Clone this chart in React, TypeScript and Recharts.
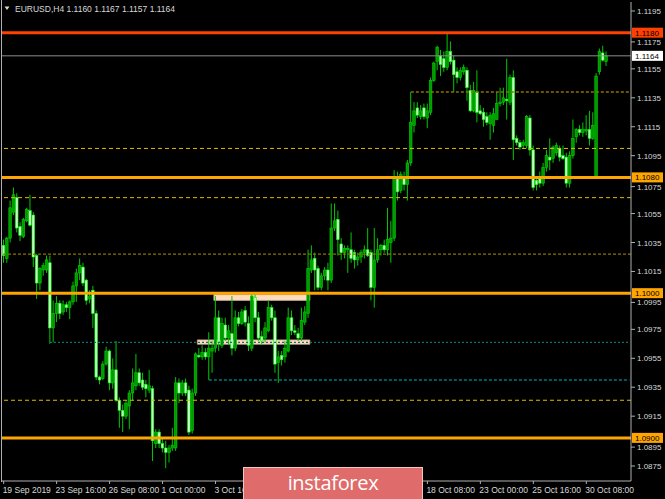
import React from "react";
import { ComposedChart, Bar, XAxis, YAxis, ReferenceLine, ReferenceArea } from "recharts";

// EURUSD H4 candles (19 Sep 2019 .. 31 Oct 2019)
const opens = [
  1.1033, 1.1024, 1.1038, 1.1056, 1.1066, 1.1046, 1.1039, 1.105, 1.1057, 1.1054,
  1.1026, 1.1007, 1.1016, 1.1016, 1.1021, 1.0976, 1.0986, 1.0993, 1.0987, 1.0992,
  1.099, 1.0994, 1.1005, 1.1014, 1.1018, 1.1009, 1.0996, 1.1002, 1.0986, 1.0942,
  1.0941, 1.0951, 1.096, 1.0938, 1.0947, 1.0926, 1.0919, 1.0915, 1.0922, 1.0931,
  1.0936, 1.0945, 1.094, 1.0937, 1.0933, 1.0934, 1.0896, 1.0904, 1.0896, 1.0893,
  1.089, 1.0893, 1.0893, 1.0938, 1.0931, 1.0938, 1.0933, 1.0905, 1.0931, 1.0957,
  1.0956, 1.0959, 1.0956, 1.096, 1.0962, 1.0983, 1.0964, 1.0978, 1.0969, 1.0972,
  1.0962, 1.0983, 1.0979, 1.0988, 1.0979, 1.0962, 1.0997, 1.0983, 1.097, 1.0969,
  1.0974, 1.099, 1.0983, 1.0952, 1.0957, 1.0956, 1.096, 1.0983, 1.0974, 1.0972,
  1.0969, 1.098, 1.0986, 1.1016, 1.1024, 1.1017, 1.1004, 1.1012, 1.1016, 1.1009,
  1.1045, 1.1051, 1.1034, 1.1028, 1.103, 1.103, 1.1028, 1.1023, 1.1025, 1.1028,
  1.103, 1.1028, 1.1004, 1.1023, 1.103, 1.1033, 1.103, 1.1035, 1.1038, 1.1079,
  1.1071, 1.108, 1.1075, 1.109, 1.1116, 1.1128, 1.1122, 1.1128, 1.1121, 1.1125,
  1.1147, 1.116, 1.1164, 1.1162, 1.1156, 1.1167, 1.1161, 1.1153, 1.1149, 1.1153,
  1.1154, 1.114, 1.1126, 1.1139, 1.1126, 1.1125, 1.1122, 1.1117, 1.1116, 1.112,
  1.1131, 1.1132, 1.1134, 1.1132, 1.1149, 1.1107, 1.1104, 1.1102, 1.1102, 1.1121,
  1.1099, 1.1078, 1.1079, 1.1076, 1.1087, 1.1094, 1.1093, 1.1097, 1.11, 1.1095,
  1.1094, 1.1076, 1.1095, 1.1108, 1.1113, 1.1111, 1.1112, 1.1113, 1.1107, 1.108,
  1.1153, 1.1166, 1.116,
];
const highs = [
  1.1037, 1.1039, 1.1064, 1.1073, 1.1069, 1.1049, 1.1052, 1.1059, 1.1068, 1.1056,
  1.1027, 1.1018, 1.1021, 1.1026, 1.1026, 1.0995, 1.0998, 1.0995, 1.0995, 1.0994,
  1.0995, 1.1008, 1.1017, 1.1024, 1.1021, 1.101, 1.1002, 1.1005, 1.0988, 1.0943,
  1.0953, 1.0963, 1.0961, 1.0955, 1.0967, 1.0928, 1.0923, 1.0926, 1.0933, 1.0948,
  1.0958, 1.0948, 1.0945, 1.094, 1.0947, 1.0936, 1.0906, 1.0906, 1.09, 1.0898,
  1.0895, 1.0907, 1.0942, 1.0941, 1.094, 1.0941, 1.0936, 1.0934, 1.0959, 1.0962,
  1.0964, 1.0962, 1.0973, 1.0967, 1.0998, 1.0988, 1.0983, 1.0983, 1.0978, 1.0998,
  1.0988, 1.0987, 1.0989, 1.0991, 1.0984, 1.1, 1.1, 1.0987, 1.0974, 1.098,
  1.0995, 1.0992, 1.0988, 1.096, 1.096, 1.0967, 1.099, 1.0988, 1.0978, 1.0976,
  1.099, 1.0991, 1.103, 1.1033, 1.1028, 1.1019, 1.1014, 1.1018, 1.1021, 1.1062,
  1.1062, 1.1057, 1.1038, 1.1033, 1.1033, 1.1042, 1.103, 1.1028, 1.103, 1.1033,
  1.1045, 1.103, 1.1045, 1.1038, 1.1034, 1.1037, 1.1059, 1.105, 1.1085, 1.1084,
  1.1084, 1.1084, 1.1092, 1.1139, 1.1132, 1.1132, 1.113, 1.1131, 1.1131, 1.1149,
  1.116, 1.1171, 1.1168, 1.1167, 1.118, 1.1174, 1.1164, 1.1156, 1.1156, 1.1158,
  1.1156, 1.1144, 1.1146, 1.1154, 1.113, 1.1128, 1.1125, 1.1125, 1.1128, 1.1139,
  1.1142, 1.1142, 1.1162, 1.1151, 1.1154, 1.1109, 1.1106, 1.1106, 1.1123, 1.1123,
  1.1102, 1.1081, 1.1084, 1.109, 1.1099, 1.1107, 1.1102, 1.1104, 1.1102, 1.1102,
  1.1097, 1.1098, 1.112, 1.1114, 1.1116, 1.1118, 1.1123, 1.1126, 1.1125, 1.1152,
  1.1169, 1.1171, 1.1167,
];
const lows = [
  1.1021, 1.1021, 1.1035, 1.1054, 1.1042, 1.1036, 1.1038, 1.1049, 1.1046, 1.1018,
  1.0996, 1.1002, 1.1012, 1.1014, 1.0965, 1.0966, 1.098, 1.0982, 1.0985, 1.0987,
  1.0982, 1.0992, 1.0994, 1.1009, 1.1005, 1.0992, 1.0993, 1.0976, 1.094, 1.0937,
  1.094, 1.095, 1.0933, 1.0934, 1.0925, 1.0907, 1.0904, 1.0913, 1.0906, 1.0926,
  1.0933, 1.0936, 1.0933, 1.0928, 1.0931, 1.0884, 1.0893, 1.0893, 1.089, 1.0879,
  1.0883, 1.0891, 1.0891, 1.0924, 1.0929, 1.0929, 1.0902, 1.0903, 1.0929, 1.0955,
  1.0954, 1.0954, 1.094, 1.0945, 1.0959, 1.096, 1.0962, 1.0967, 1.0964, 1.0957,
  1.096, 1.0977, 1.0978, 1.0977, 1.096, 1.096, 1.098, 1.0967, 1.0964, 1.0966,
  1.0973, 1.0981, 1.0945, 1.0938, 1.095, 1.0952, 1.0959, 1.0971, 1.0971, 1.0967,
  1.0967, 1.0978, 1.0983, 1.1014, 1.1002, 1.1002, 1.1002, 1.1009, 1.1002, 1.1007,
  1.1043, 1.1026, 1.1023, 1.1024, 1.1014, 1.1021, 1.1017, 1.1019, 1.1021, 1.1024,
  1.1025, 1.0995, 1.099, 1.1021, 1.1026, 1.1028, 1.1026, 1.1021, 1.1036, 1.1064,
  1.1069, 1.1071, 1.1064, 1.1088, 1.1111, 1.1121, 1.112, 1.112, 1.1114, 1.1123,
  1.1146, 1.1154, 1.115, 1.1153, 1.1154, 1.1158, 1.1139, 1.1145, 1.1147, 1.1151,
  1.1133, 1.1125, 1.1125, 1.1118, 1.1123, 1.1115, 1.1116, 1.1106, 1.1111, 1.112,
  1.1129, 1.113, 1.112, 1.113, 1.1092, 1.1102, 1.1099, 1.11, 1.11, 1.1095,
  1.1071, 1.1071, 1.1073, 1.1074, 1.1084, 1.1085, 1.109, 1.1095, 1.1091, 1.1092,
  1.1073, 1.1073, 1.1093, 1.1104, 1.1109, 1.1108, 1.1109, 1.1102, 1.1106, 1.108,
  1.1151, 1.116, 1.1157,
];
const closes = [
  1.1026, 1.1038, 1.1059, 1.1068, 1.1045, 1.104, 1.1051, 1.1058, 1.1047, 1.1025,
  1.1007, 1.1017, 1.1019, 1.1023, 1.0976, 1.0986, 1.0993, 1.0986, 1.0992, 1.099,
  1.0994, 1.1005, 1.1014, 1.1019, 1.1007, 1.0995, 1.0998, 1.0986, 1.0942, 1.094,
  1.0951, 1.096, 1.0938, 1.0947, 1.0926, 1.0919, 1.0915, 1.0924, 1.0931, 1.0938,
  1.0945, 1.0938, 1.0935, 1.0934, 1.0936, 1.0898, 1.0904, 1.0896, 1.0893, 1.089,
  1.0893, 1.0895, 1.0938, 1.0931, 1.0938, 1.0931, 1.0904, 1.0931, 1.0958, 1.0956,
  1.0959, 1.0956, 1.0962, 1.0962, 1.0983, 1.0966, 1.0979, 1.0969, 1.0974, 1.0962,
  1.0983, 1.0979, 1.0987, 1.098, 1.0964, 1.0998, 1.0983, 1.0969, 1.0967, 1.0976,
  1.099, 1.0983, 1.0951, 1.0956, 1.0954, 1.0962, 1.0983, 1.0974, 1.0973, 1.0969,
  1.0981, 1.0987, 1.1017, 1.1023, 1.1016, 1.1004, 1.1012, 1.1016, 1.1009, 1.1045,
  1.105, 1.1037, 1.1028, 1.1031, 1.1031, 1.1024, 1.1023, 1.1025, 1.1028, 1.103,
  1.1026, 1.1004, 1.1023, 1.103, 1.1033, 1.103, 1.1037, 1.1038, 1.108, 1.107,
  1.1082, 1.1075, 1.109, 1.1118, 1.1126, 1.1123, 1.1126, 1.1122, 1.1126, 1.1147,
  1.1159, 1.117, 1.1158, 1.1156, 1.1167, 1.116, 1.1151, 1.1149, 1.1154, 1.1156,
  1.1142, 1.1126, 1.114, 1.1125, 1.1124, 1.112, 1.1118, 1.1123, 1.1124, 1.1131,
  1.1132, 1.1135, 1.1133, 1.1149, 1.1106, 1.1104, 1.1101, 1.1104, 1.1122, 1.1099,
  1.1073, 1.1075, 1.1076, 1.1087, 1.1095, 1.1092, 1.1101, 1.1102, 1.1094, 1.1093,
  1.1076, 1.1095, 1.1107, 1.1113, 1.1111, 1.1113, 1.1113, 1.1107, 1.1116, 1.115,
  1.1167, 1.1161, 1.1164,
];

const slotCount = 190; // chart keeps some empty space on the right
// time labels that are not hidden behind the watermark
const timeTicks = [0, 16, 32, 48, 64, 128, 144, 160, 176];
const timeLabels = [
  "19 Sep 2019", "23 Sep 16:00", "26 Sep 08:00", "1 Oct 00:00", "3 Oct 16:00",
  "18 Oct 08:00", "23 Oct 00:00", "25 Oct 16:00", "30 Oct 08:00",
];
const priceTicks = [
  1.0875, 1.0895, 1.0915, 1.0935, 1.0955, 1.0975, 1.0995, 1.1015, 1.1035,
  1.1055, 1.1075, 1.1095, 1.1115, 1.1135, 1.1155, 1.1175, 1.1195,
];

const resistance = 1.118;
const supportLevels = [1.108, 1.1, 1.09];
const yellowLevels = [1.11, 1.1066, 1.0926];
const darkLevels = [1.1027];
const darkPartial = { price: 1.1139, from: 123 };
const tealLevels = [
  { price: 1.0966, from: 14 },
  { price: 1.094, from: 62 },
];
const zones = [
  { from: 64, to: 92, low: 1.0995, high: 1.0999 },
  { from: 59, to: 92, low: 1.09647, high: 1.09677 },
];

const data = Array.from({ length: slotCount }, (_, i) =>
  i < opens.length
    ? { idx: i, range: [lows[i], highs[i]], o: opens[i], h: highs[i], l: lows[i], c: closes[i] }
    : { idx: i }
);
const last = opens.length - 1;
const bid = closes[last];
const taggedLevels = [resistance, ...supportLevels, bid];

const FONT = "'Liberation Sans', Arial, sans-serif";
const TEXT = "#d8d8d8";
const FRAME = "#b0b0b0";

function Candle(props: any) {
  const { x, y, width, height, payload } = props;
  if (!payload || payload.o == null || !Number.isFinite(y)) return null;
  const { o, h, l, c } = payload;
  const span = h - l || 1e-9;
  const py = (p: number) => y + ((h - p) / span) * height;
  const cx = x + width / 2;
  const up = c >= o;
  const top = py(Math.max(o, c));
  const bot = py(Math.min(o, c));
  const bw = 2.6;
  return (
    <g>
      <line x1={cx} x2={cx} y1={y} y2={y + height} stroke="#00c800" strokeWidth={1} />
      <rect
        x={cx - bw / 2}
        y={top}
        width={bw}
        height={Math.max(bot - top, 1)}
        fill={up ? "#009a00" : "#c6ffc6"}
        stroke={up ? "#00d000" : "#00ff00"}
        strokeWidth={0.6}
      />
    </g>
  );
}

function TimeTick(props: any) {
  const { x, y, payload } = props;
  const k = timeTicks.indexOf(payload.value);
  return (
    <g>
      <line x1={x} x2={x} y1={y} y2={y + 3} stroke={FRAME} />
      <text x={x - 1} y={y + 12} fill={TEXT} fontSize={8.5} fontFamily={FONT} textAnchor="start">
        {timeLabels[k]}
      </text>
    </g>
  );
}

function PriceTick(props: any) {
  const { x, y, payload } = props;
  let ty = Math.min(y, 466);
  // nudge a scale label that sits just under a price tag
  const v = payload.value;
  if (taggedLevels.some((p) => p > v && p - v < 0.0007)) ty += 2;
  return (
    <g>
      <line x1={x} x2={x + 4} y1={ty} y2={ty} stroke={FRAME} />
      <text x={x + 6} y={ty + 3} fill={TEXT} fontSize={8} fontFamily={FONT}>
        {v.toFixed(4)}
      </text>
    </g>
  );
}

function tag(text: string, fill: string) {
  return (props: any) => {
    const vb = props.viewBox || {};
    const x0 = vb.x + vb.width + 1;
    const y0 = vb.y;
    return (
      <g>
        <rect x={x0} y={y0 - 5} width={31} height={10} fill={fill} />
        <text x={x0 + 3} y={y0 + 3} fill="#000" fontSize={8} fontFamily={FONT}>
          {text}
        </text>
      </g>
    );
  };
}

export default function App() {
  return (
    <div style={{ position: "relative", width: 665, height: 499, background: "#000", overflow: "hidden" }}>
      <style>{"body{margin:0;background:#000}"}</style>
      <ComposedChart
        width={665}
        height={499}
        data={data}
        margin={{ top: 2, right: 0, left: 2, bottom: 0 }}
        barCategoryGap={0}
      >
        <XAxis
          dataKey="idx"
          type="category"
          ticks={timeTicks}
          interval={0}
          tick={<TimeTick />}
          tickLine={false}
          tickSize={0}
          tickMargin={0}
          height={18}
          axisLine={{ stroke: FRAME }}
        />
        <YAxis
          orientation="right"
          width={34}
          type="number"
          domain={[1.08702, 1.12012]}
          allowDataOverflow
          ticks={priceTicks}
          interval={0}
          tick={<PriceTick />}
          tickLine={false}
          tickSize={0}
          tickMargin={0}
          axisLine={{ stroke: FRAME }}
        />
        {zones.map((z, i) => (
          <ReferenceArea
            key={"z" + i}
            x1={z.from}
            x2={z.to}
            y1={z.low}
            y2={z.high}
            fill="#ffdcc0"
            fillOpacity={1}
            stroke="#c8a888"
            strokeWidth={0.8}
            zIndex={100}
          />
        ))}
        <Bar dataKey="range" isAnimationActive={false} shape={<Candle />} />
        {yellowLevels.map((p) => (
          <ReferenceLine key={"y" + p} y={p} stroke="#e0bc00" strokeDasharray="4 3" strokeWidth={1} zIndex={450} />
        ))}
        {darkLevels.map((p) => (
          <ReferenceLine key={"d" + p} y={p} stroke="#8a7400" strokeDasharray="3 2" strokeWidth={1.4} zIndex={450} />
        ))}
        <ReferenceLine
          segment={[
            { x: darkPartial.from, y: darkPartial.price },
            { x: slotCount - 1, y: darkPartial.price },
          ]}
          stroke="#8a7400"
          strokeDasharray="3 2"
          strokeWidth={1.4}
          ifOverflow="visible"
          zIndex={450}
        />
        <ReferenceLine
          segment={[
            { x: tealLevels[0].from, y: tealLevels[0].price },
            { x: slotCount - 1, y: tealLevels[0].price },
          ]}
          stroke="#0a7070"
          strokeDasharray="2 2"
          strokeWidth={1.4}
          ifOverflow="visible"
          zIndex={450}
        />
        <ReferenceLine
          segment={[
            { x: tealLevels[1].from, y: tealLevels[1].price },
            { x: slotCount - 1, y: tealLevels[1].price },
          ]}
          stroke="#00b4b4"
          strokeDasharray="3 2"
          strokeWidth={1}
          ifOverflow="visible"
          zIndex={450}
        />
        <ReferenceLine y={bid} stroke="#8c8c8c" strokeWidth={1} label={tag(bid.toFixed(4), "#ffffff")} zIndex={450} />
        <ReferenceLine
          y={resistance}
          stroke="#ff4000"
          strokeWidth={3}
          label={tag(resistance.toFixed(4), "#ff4000")}
          zIndex={460}
        />
        {supportLevels.map((p) => (
          <ReferenceLine
            key={"s" + p}
            y={p}
            stroke="#ffa500"
            strokeWidth={3}
            label={tag(p.toFixed(4), "#ffa500")}
            zIndex={460}
          />
        ))}
      </ComposedChart>

      {/* left frame */}
      <div style={{ position: "absolute", left: 1, top: 0, width: 1, height: 482, background: FRAME }} />

      {/* header */}
      <svg style={{ position: "absolute", left: 0, top: 0 }} width={260} height={16}>
        <path d="M4.5 6.5 L9.5 6.5 L7 10 Z" fill={TEXT} />
        <text x={15} y={12} fill={TEXT} fontSize={8.5} fontFamily={FONT}>
          {`EURUSD,H4  ${opens[last].toFixed(4)} ${highs[last].toFixed(4)} ${lows[last].toFixed(4)} ${closes[last].toFixed(4)}`}
        </text>
      </svg>

      {/* watermark */}
      <div
        style={{
          position: "absolute",
          left: 243,
          top: 467,
          width: 178,
          height: 31,
          background: "#e06b6b",
          border: "1px solid #f2c4c4",
          color: "#fff",
          fontFamily: "'Open Sans', sans-serif",
          fontSize: 20,
          lineHeight: "30px",
          textAlign: "center",
          letterSpacing: -0.3,
        }}
      >
        instaforex
      </div>
    </div>
  );
}
